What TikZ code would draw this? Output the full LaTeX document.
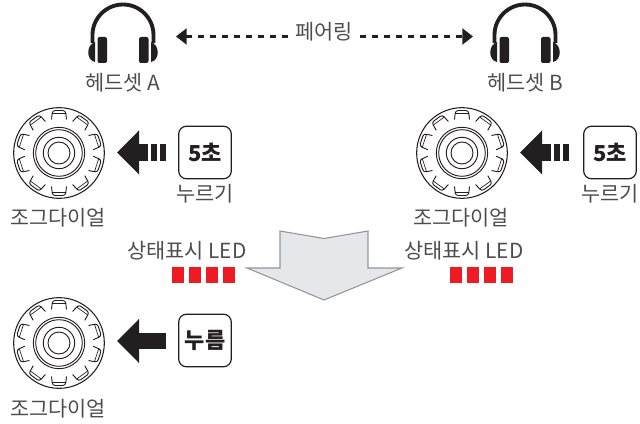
\documentclass[tikz,border=0pt]{standalone}
\usepackage{fontspec}
\setmainfont{Noto Sans CJK KR}
\usetikzlibrary{arrows.meta,positioning}
\definecolor{inkblack}{HTML}{231F20}
\definecolor{inkgray}{HTML}{4D4D4F}
\definecolor{ledred}{HTML}{ED1C24}
\definecolor{bigarrowfill}{HTML}{E6E7E8}
\definecolor{bigarrowline}{HTML}{939598}
\tikzset
{
    txtlabel/.style = {align=center, inner sep=0pt, text=inkgray, font=\fontsize{15.6}{17}\selectfont},
    keybtn/.style   = {draw=inkblack, line width=0.9pt, rounded corners=6pt, minimum size=39.5pt, inner sep=0pt, text=inkblack, font=\fontsize{16.5}{18}\bfseries\selectfont},
    dialnode/.style = {circle, draw=inkblack, line width=0.8pt, minimum size=68pt, inner sep=0pt},
    hpnode/.style   = {minimum width=50pt, minimum height=48pt, inner sep=0pt},
    pressarrow/.style = {draw=inkblack, line width=12.5pt, -{Triangle[length=16.5pt,width=32pt]}},
    holdbar/.style  = {draw=inkblack, line width=12.5pt},
    pairarrow/.style = {draw=inkblack, line width=1.6pt, dash pattern=on 4.3pt off 4.7pt, -{Triangle[length=8pt,width=12pt]}},
    ledbox/.style   = {fill=ledred, draw=none, minimum width=9pt, minimum height=12pt, inner sep=0pt},
    jogdial/.pic = {
        \foreach \r in {25.7,23.3,15.7,11}
            \draw[inkblack, line width=0.7pt] (0,0) circle ({\r*0.75pt});
        \foreach \a in {0,36,...,324}
        {
            \draw[inkblack, line width=0.7pt, rounded corners=2pt, rotate=\a]
                (-7.5,-33.5) -- (-6.5,-42.5) -- (6.5,-42.5) -- (7.5,-33.5);
            \draw[inkblack, line width=0.5pt, rotate=\a]
                (-6.8,-39.5) -- (6.8,-39.5);
        }
    },
    headset/.pic = {
        \draw[inkblack, line width=2.9pt] (-30.5,6) -- (-30.5,-2) arc[start angle=180, end angle=360, x radius=30.5, y radius=30.5] -- (30.5,6);
        \fill[inkblack] (-28,5) .. controls (-37,8) and (-37,23) .. (-28,25) -- cycle;
        \fill[inkblack] (28,5) .. controls (37,8) and (37,23) .. (28,25) -- cycle;
        \fill[inkblack, rounded corners=1.5pt] (-25.5,0) rectangle (-16,26);
        \fill[inkblack, rounded corners=1.5pt] (25.5,0) rectangle (16,26);
    }
}
\begin{document}
\begin{tikzpicture}[x=0.75pt, y=-0.75pt]
    \useasboundingbox (0,0) rectangle (640,424);
    % headsets
    \node [hpnode] (hpA) at (123,37) {};
    \node [hpnode] (hpB) at (525,37) {};
    \pic at (hpA) {headset};
    \pic at (hpB) {headset};
    \node [txtlabel] (hpAlabel) at (123,83) {헤드셋 A};
    \node [txtlabel] (hpBlabel) at (525,83) {헤드셋 B};
    \node [txtlabel] (pairlabel) at (324,32) {페어링};
    \coordinate (pairL) at (176,36.5);
    \coordinate (pairR) at (473,36.5);
    \draw [pairarrow] (288,36.5) -- (pairL);
    \draw [pairarrow] (360,36.5) -- (pairR);
    % dials
    \node [dialnode] (dialA) at (59,153) {};
    \node [dialnode] (dialB) at (462,153) {};
    \node [dialnode] (dialC) at (59,343) {};
    \pic at (dialA) {jogdial};
    \pic at (dialB) {jogdial};
    \pic at (dialC) {jogdial};
    \node [txtlabel] (dialAlabel) at (58,218) {조그다이얼};
    \node [txtlabel] (dialBlabel) at (461,218) {조그다이얼};
    \node [txtlabel] (dialClabel) at (58,409) {조그다이얼};
    % buttons
    \node [keybtn] (btnA) at (205,152.5) {5초};
    \node [keybtn] (btnB) at (610,152.5) {5초};
    \node [keybtn] (btnC) at (205,340.5) {누름};
    \node [txtlabel] (btnAlabel) at (205,194) {누르기};
    \node [txtlabel] (btnBlabel) at (610,194) {누르기};
    % press arrows
    \coordinate (tipA) at (117,152.5);
    \coordinate (tipB) at (520,152.5);
    \coordinate (tipC) at (117,341);
    \draw [pressarrow] (148,152.5) -- (tipA);
    \draw [pressarrow] (551,152.5) -- (tipB);
    \draw [pressarrow] (166,341) -- (tipC);
    \foreach \x in {151,160}
    {
        \draw [holdbar] (\x,152.5) -- (\x+6,152.5);
        \draw [holdbar] (\x+403,152.5) -- (\x+409,152.5);
    }
    % state
    \node [txtlabel] (ledAlabel) at (187,251) {상태표시 LED};
    \node [txtlabel] (ledBlabel) at (464,251) {상태표시 LED};
    \foreach \n in {0,1,2,3}
    {
        \node [ledbox] (ledA\n) at (178+17*\n,275) {};
        \node [ledbox] (ledB\n) at (456+17*\n,275) {};
    }
    % big arrow
    \draw [fill=bigarrowfill, draw=bigarrowline, line width=0.8pt]
        (280,231) -- (324,238.5) -- (368,231) -- (368,268) -- (402,268) -- (324,300) -- (247,268) -- (280,268) -- cycle;
\end{tikzpicture}
\end{document}
